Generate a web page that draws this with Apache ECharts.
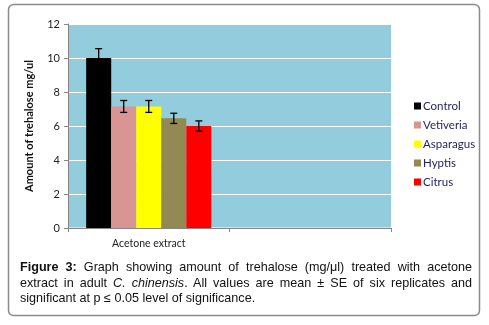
<!DOCTYPE html>
<html>
<head>
<meta charset="utf-8">
<script src="https://cdn.jsdelivr.net/npm/echarts@6/dist/echarts.min.js"></script>
<style>
  html, body { margin: 0; padding: 0; background: #fff; }
  #wrap { position: relative; width: 489px; height: 325px; }
  #main { position: absolute; left: 0; top: 0; width: 489px; height: 325px; }
  #caption {
    position: absolute; left: 20px; top: 260px; width: 452px;
    font-family: "Liberation Sans", Arial, sans-serif; font-size: 12.6px; line-height: 15.5px;
    color: #111; text-align: justify;
  }
</style>
</head>
<body>
<div id="wrap">
  <div id="main"></div>
  <div id="caption"><b>Figure 3:</b> Graph showing amount of trehalose (mg/μl) treated with acetone extract in adult <i>C. chinensis</i>. All values are mean ± SE of six replicates and significant at p ≤ 0.05 level of significance.</div>
</div>
<script>
const categories = ['Acetone extract', ''];
const seriesNames = ['Control', 'Vetiveria', 'Asparagus', 'Hyptis', 'Citrus'];
const seriesColors = ['#000000', '#d99594', '#ffff00', '#938953', '#ff0000'];
const means = [10.0, 7.15, 7.15, 6.45, 6.0];
const errors = [0.55, 0.35, 0.35, 0.3, 0.3];
const yTicks = [0, 2, 4, 6, 8, 10, 12];

const gapRatio = 0.225;

let series = seriesNames.map((name, i) => ({
  name: name,
  type: 'bar',
  data: [means[i], '-'],
  barGap: '0%',
  barCategoryGap: (gapRatio * 100) + '%',
  itemStyle: { color: seriesColors[i] },
  emphasis: { disabled: true }
}));

// error bars
series.push({
  type: 'custom',
  name: 'err',
  z: 10,
  silent: true,
  data: means.map((m, i) => [0, m, errors[i], i]),
  renderItem: function (params, api) {
    let idx = api.value(3);
    let band = api.size([1, 0])[0];
    let bw = band * (1 - gapRatio) / seriesNames.length;
    let cx = api.coord([0, 0])[0] - band * (1 - gapRatio) / 2 + (idx + 0.5) * bw;
    let top = api.coord([0, api.value(1) + api.value(2)])[1];
    let bot = api.coord([0, api.value(1) - api.value(2)])[1];
    let cap = 3.5;
    let st = { stroke: '#000', lineWidth: 1.3 };
    return {
      type: 'group',
      children: [
        { type: 'line', shape: { x1: cx, y1: top, x2: cx, y2: bot }, style: st },
        { type: 'line', shape: { x1: cx - cap, y1: top, x2: cx + cap, y2: top }, style: st },
        { type: 'line', shape: { x1: cx - cap, y1: bot, x2: cx + cap, y2: bot }, style: st }
      ]
    };
  },
  encode: { x: 0, y: 1 }
});

let option = {
  animation: false,
  textStyle: { fontFamily: 'Lato, "Open Sans", sans-serif' },
  grid: { left: 68, right: 98, top: 24, bottom: 97 },
  graphic: [
    {
      type: 'rect',
      shape: { x: 8.5, y: 4.5, width: 471, height: 311, r: 5 },
      style: { fill: 'none', stroke: '#8a8a8a', lineWidth: 1.5 },
      z: -1
    },
    {
      type: 'rect',
      shape: { x: 68, y: 24, width: 323, height: 203.5 },
      style: { fill: '#93cddd' },
      z: -1
    }
  ],
  legend: {
    orient: 'vertical',
    left: 409,
    top: 95,
    itemWidth: 7,
    itemHeight: 7,
    itemGap: 7,
    icon: 'rect',
    data: seriesNames,
    textStyle: { color: '#1f1f5c', fontSize: 11.5, padding: [0, 0, 0, -3], lineHeight: 12 }
  },
  xAxis: {
    type: 'category',
    data: categories,
    axisLine: { lineStyle: { color: '#868686' } },
    axisTick: { show: true, length: 4, lineStyle: { color: '#868686' } },
    axisLabel: { color: '#222', fontSize: 10.5, margin: 10 }
  },
  yAxis: {
    type: 'value',
    min: 0,
    max: 12,
    interval: 2,
    name: 'Amount of trehalose mg/ul',
    nameLocation: 'middle',
    nameGap: 33,
    nameTextStyle: { fontWeight: 'bold', fontSize: 11, color: '#111' },
    axisLine: { show: true, lineStyle: { color: '#868686' } },
    axisTick: { show: true, length: 4, lineStyle: { color: '#868686' } },
    axisLabel: { color: '#222', fontSize: 11, margin: 8,
      formatter: v => yTicks.includes(v) ? String(v) : '' },
    splitLine: { lineStyle: { color: '#ffffff', width: 1 } }
  },
  series: series
};

let myChart = echarts.init(document.getElementById('main'));
myChart.setOption(option);
</script>
</body>
</html>
